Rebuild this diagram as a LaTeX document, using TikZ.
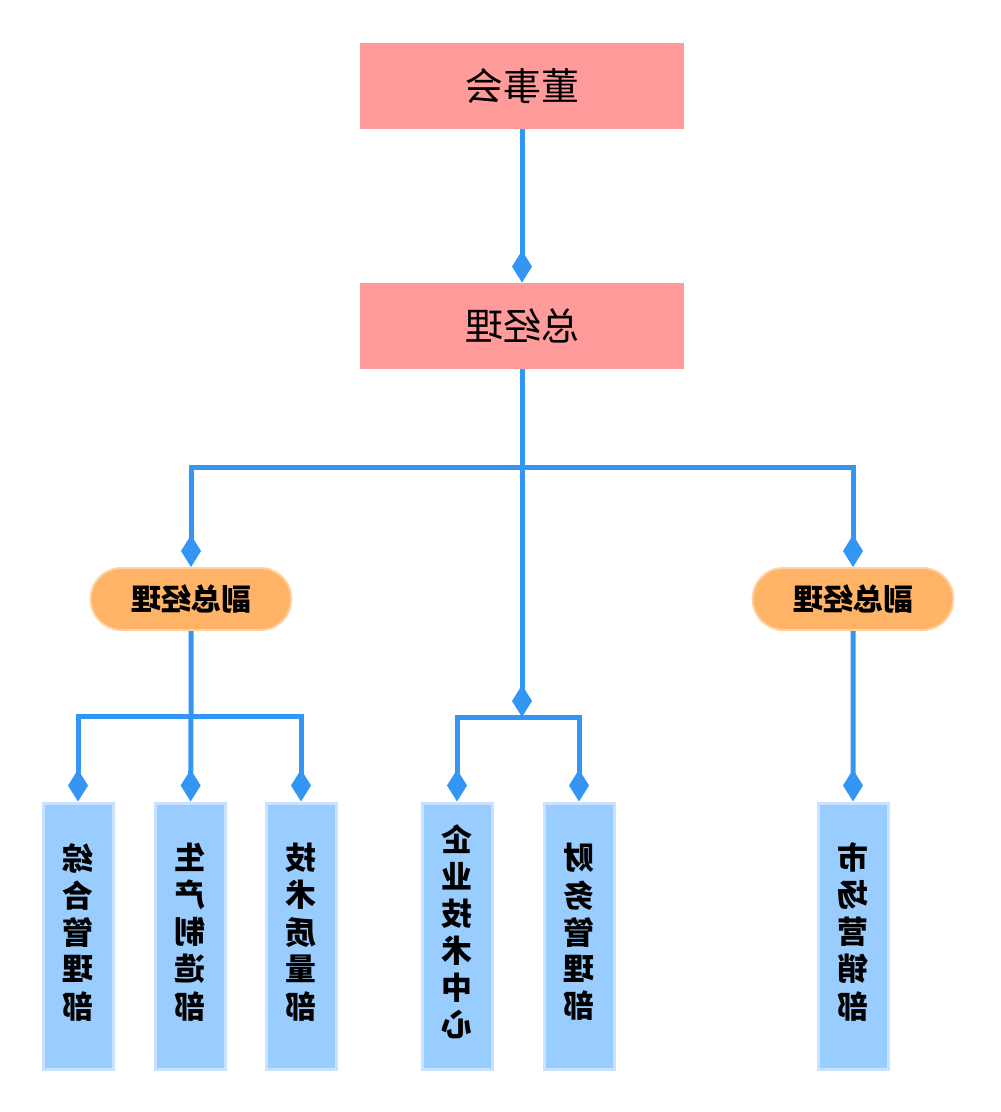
\documentclass[tikz,border=0pt]{standalone}
\usepackage{fontspec}
\newfontfamily\cjk{Noto Sans CJK SC}
\usepackage{tikz}
\usetikzlibrary{arrows.meta, positioning, shapes.misc}
\definecolor{linkblue}{RGB}{51,150,245}
\definecolor{boardpink}{RGB}{255,155,155}
\definecolor{viceorange}{RGB}{255,179,102}
\definecolor{viceedge}{RGB}{255,208,160}
\definecolor{deptblue}{RGB}{153,204,255}
\definecolor{deptedge}{RGB}{200,226,255}
\newcommand{\mirror}[1]{\scalebox{-1}[1]{#1}}
\newcommand{\vtext}[1]{\mirror{\begin{tabular}{@{}c@{}}#1\end{tabular}}}

\begin{document}
\begin{tikzpicture}[x=0.5pt, y=-0.5pt,
    board/.style={fill=boardpink, minimum width=162pt, minimum height=43pt, font=\cjk\fontsize{19}{22}\selectfont},
    vice/.style={rounded rectangle, fill=viceorange, draw=viceedge, line width=1pt, minimum width=107pt, minimum height=31pt, font=\cjk\bfseries\fontsize{15}{18}\selectfont},
    dept/.style={fill=deptblue, draw=deptedge, line width=1.5pt, minimum width=35pt, minimum height=133pt, inner sep=0pt, font=\cjk\bfseries\fontsize{15.5}{17.7}\selectfont},
    line/.style={draw=linkblue, line width=2.5pt},
    link/.style={line, -{Diamond[length=16pt,width=10pt]}}]

        \useasboundingbox (0,0) rectangle (1000,1112);

        \node[board] (bod) at (522,86) {\mirror{董事会}};
        \node[board] (gm) at (522,326) {\mirror{总经理}};
        \node[vice] (vpl) at (191,599) {\mirror{副总经理}};
        \node[vice] (vpr) at (853,599) {\mirror{副总经理}};

        \node[dept] (d1) at (78,936) {\vtext{综\\合\\管\\理\\部}};
        \node[dept] (d2) at (190,936) {\vtext{生\\产\\制\\造\\部}};
        \node[dept] (d3) at (301,936) {\vtext{技\\术\\质\\量\\部}};
        \node[dept] (d4) at (457,936) {\vtext{企\\业\\技\\术\\中\\心}};
        \node[dept] (d5) at (579,936) {\vtext{财\\务\\管\\理\\部}};
        \node[dept] (d6) at (853,936) {\vtext{市\\场\\营\\销\\部}};

        \coordinate (split) at (522,467);
        \coordinate (midjoin) at (522,717);
        \coordinate (leftjoin) at (191,716);

        \path[link] (bod) -- (gm);
        \path[link] (gm) -- (midjoin);
        \path[link] (split) -| (vpl);
        \path[link] (split) -| (vpr);

        \path[line] (vpl) -- (leftjoin);
        \path[link] (leftjoin) -| (d1);
        \path[link] (leftjoin) -- (d2);
        \path[link] (leftjoin) -| (d3);

        \path[link] (midjoin) -| (d4);
        \path[link] (midjoin) -| (d5);

        \path[link] (vpr) -- (d6);

\end{tikzpicture}
\end{document}
